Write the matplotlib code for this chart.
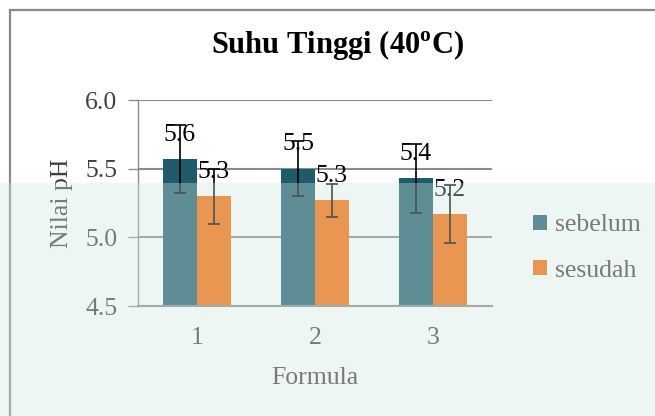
import matplotlib
matplotlib.use('Agg')
import matplotlib.pyplot as plt
import numpy as np
from matplotlib.patches import Rectangle, Patch

# Data
formula = ['1', '2', '3']
sebelum = [5.57, 5.50, 5.43]
sesudah = [5.30, 5.27, 5.17]
err_sebelum = [0.25, 0.20, 0.25]
err_sesudah = [0.20, 0.12, 0.21]
yticks = [4.5, 5.0, 5.5, 6.0]

plt.rcParams['font.family'] = ['Liberation Serif', 'DejaVu Serif']
plt.rcParams['mathtext.fontset'] = 'custom'
plt.rcParams['mathtext.rm'] = 'Liberation Serif'
plt.rcParams['mathtext.bf'] = 'Liberation Serif:bold'

teal = '#1F5B6B'
orange = '#F56A04'
grid_c = '#8C8C8C'
txt_c = '#404040'

fig = plt.figure(figsize=(6.55, 4.16), dpi=100)
ax = fig.add_axes([138 / 655, 1 - 306 / 416, 354 / 655, 206 / 416])

x = np.arange(len(formula))
w = 0.288
ax.bar(x - w / 2, sebelum, w, color=teal, zorder=2)
ax.bar(x + w / 2, sesudah, w, color=orange, zorder=2)

ax.errorbar(x - w / 2, sebelum, yerr=err_sebelum, fmt='none', ecolor='black',
            elinewidth=1.2, capsize=4.5, capthick=1.2, zorder=5)
ax.errorbar(x + w / 2, sesudah, yerr=err_sesudah, fmt='none', ecolor='black',
            elinewidth=1.2, capsize=4.5, capthick=1.2, zorder=5)

for xs, vals in ((x - w / 2, sebelum), (x + w / 2, sesudah)):
    for xi, v in zip(xs, vals):
        ax.annotate(f'{v:.1f}', (xi, v), xytext=(0, 17.5), textcoords='offset points',
                    ha='center', va='center', fontsize=18.5, color='black', zorder=4)

ax.set_xlim(-0.5, len(formula) - 0.5)
ax.set_ylim(4.5, 6.0)
ax.set_yticks(yticks)
ax.set_yticklabels([f'{t:.1f}' for t in yticks])
ax.set_xticks(x)
ax.set_xticklabels(formula)

ax.yaxis.grid(True, color=grid_c, lw=1.5)
ax.set_axisbelow(True)
for s in ('top', 'right'):
    ax.spines[s].set_visible(False)
ax.spines['left'].set_color(grid_c)
ax.spines['left'].set_linewidth(1.0)
ax.spines['bottom'].set_color(grid_c)
ax.spines['bottom'].set_linewidth(1.5)

ax.tick_params(axis='y', length=7, width=1.0, color=grid_c, pad=8,
               labelsize=18.5, labelcolor=txt_c)
ax.tick_params(axis='x', length=0, pad=15, labelsize=18.5, labelcolor=txt_c)

ax.set_ylabel('Nilai pH', fontsize=18.5, color=txt_c, va='center', ha='center')
ax.yaxis.set_label_coords((62 - 138) / 354, 0.5)
ax.set_xlabel('Formula', fontsize=18.5, color=txt_c, va='center', ha='center')
ax.xaxis.set_label_coords(0.5, (306 - 378) / 206)

fig.text(338 / 655, 1 - 53 / 416, r'Suhu Tinggi (40$^{\mathbf{o}}$C)',
         ha='center', va='baseline', fontsize=22, fontweight='bold', color='black')

handles = [Patch(facecolor=teal, label='sebelum'), Patch(facecolor=orange, label='sesudah')]
ax.legend(handles=handles, loc='center left', bbox_to_anchor=(533 / 655, 1 - 248 / 416),
          bbox_transform=fig.transFigure, frameon=False, borderpad=0, borderaxespad=0,
          handlelength=0.55, handleheight=0.55, handletextpad=0.3, labelspacing=0.9,
          fontsize=18.5, labelcolor=txt_c)

# chart frame
fig.add_artist(Rectangle((9.5 / 655, -0.5), 2, 0.5 + 1 - 9.5 / 416, fill=False,
                         edgecolor='#8A8A8A', lw=1.6, transform=fig.transFigure, zorder=50))

# pale tint over the lower part of the page
fig.add_artist(Rectangle((0, 0), 1, 1 - 183 / 416, facecolor=(210 / 255, 232 / 255, 225 / 255),
                         edgecolor='none', alpha=0.355, transform=fig.transFigure, zorder=100))

fig.savefig('out.png', dpi=100)
